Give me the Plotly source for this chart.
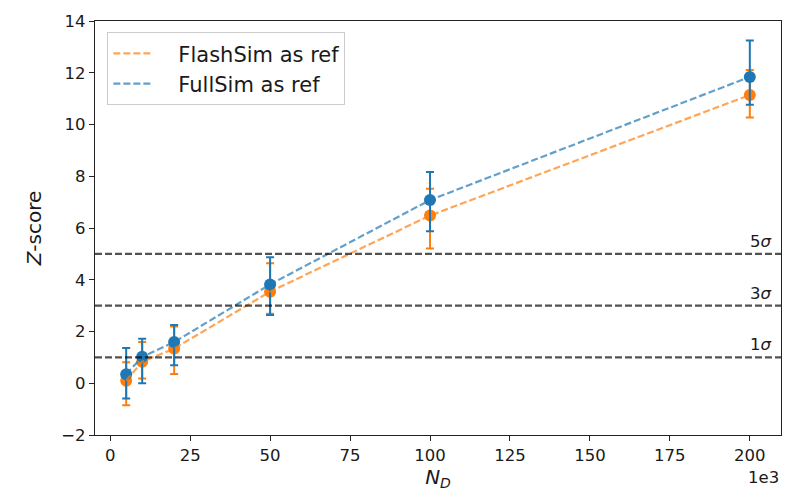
import plotly.graph_objects as go

# Data (x in units of 1e3)
n_d = [5, 10, 20, 50, 100, 200]

flash_z = [0.10, 0.83, 1.34, 3.54, 6.48, 11.14]
flash_err_plus = [0.71, 0.76, 0.85, 1.10, 1.04, 0.97]
flash_err_minus = [0.95, 0.65, 0.98, 0.85, 1.27, 0.87]

full_z = [0.35, 1.02, 1.59, 3.82, 7.08, 11.84]
full_err_plus = [1.01, 0.70, 0.66, 1.05, 1.08, 1.41]
full_err_minus = [0.94, 1.02, 0.89, 1.18, 1.21, 1.08]

sigma_levels = [1, 3, 5]
sigma_labels = ["1<i>σ</i>", "3<i>σ</i>", "5<i>σ</i>"]

x_ticks = [0, 25, 50, 75, 100, 125, 150, 175, 200]
y_ticks = [-2, 0, 2, 4, 6, 8, 10, 12, 14]
y_ticktext = ["−2", "0", "2", "4", "6", "8", "10", "12", "14"]

series_names = ["FlashSim as ref", "FullSim as ref"]

BLUE = "#1f77b4"
ORANGE = "#ff7f0e"
FONT = "DejaVu Sans, Arial, sans-serif"
TXT = "#1a1a1a"

fig = go.Figure()

# error bar markers
for z, ep, em, col in [(flash_z, flash_err_plus, flash_err_minus, ORANGE),
                       (full_z, full_err_plus, full_err_minus, BLUE)]:
    fig.add_trace(go.Scatter(
        x=n_d, y=z, mode="markers", showlegend=False,
        marker=dict(color=col, size=12),
        error_y=dict(type="data", symmetric=False, array=ep, arrayminus=em,
                     color=col, thickness=2, width=4),
    ))

# dashed lines with legend
for z, col, name in [(flash_z, "rgba(255,127,14,0.7)", series_names[0]),
                     (full_z, "rgba(31,119,180,0.7)", series_names[1])]:
    fig.add_trace(go.Scatter(
        x=n_d, y=z, mode="lines", name="\u00a0\u00a0\u00a0" + name,
        line=dict(color=col, width=2.2, dash="7px,3px"),
    ))

# horizontal sigma lines
for lvl, lab in zip(sigma_levels, sigma_labels):
    fig.add_shape(type="line", xref="paper", x0=0, x1=1, yref="y", y0=lvl, y1=lvl,
                  line=dict(color="rgba(0,0,0,0.68)", width=2.2, dash="7px,3px"))
    fig.add_annotation(x=207.5, y=lvl, xref="x", yref="y", text=lab,
                       showarrow=False, xanchor="right", yanchor="bottom", yshift=1,
                       font=dict(family=FONT, size=16.5, color=TXT))

fig.add_annotation(x=1, y=0, xref="paper", yref="paper", text="1e3",
                   showarrow=False, xanchor="right", yanchor="top", yshift=-31,
                   font=dict(family=FONT, size=16.5, color=TXT))

axis_common = dict(showline=True, linecolor="#222", linewidth=1.3, mirror=True,
                   ticks="outside", ticklen=5, tickwidth=1.2, tickcolor="#222",
                   showgrid=False, zeroline=False,
                   tickfont=dict(family=FONT, size=16.5, color=TXT))

fig.update_xaxes(range=[-4.75, 209.75], tickvals=x_ticks,
                 title=dict(text="<i>N</i><sub><i>D</i></sub>", standoff=2,
                            font=dict(family=FONT, size=20, color=TXT)),
                 **axis_common)
fig.update_yaxes(range=[-2, 14], tickvals=y_ticks, ticktext=y_ticktext,
                 title=dict(text="<i>Z</i>-score", standoff=14,
                            font=dict(family=FONT, size=20, color=TXT)),
                 **axis_common)

fig.update_layout(
    width=803, height=493,
    margin=dict(l=95, r=22, t=16, b=57),
    paper_bgcolor="white", plot_bgcolor="white",
    font=dict(family=FONT, color=TXT),
    legend=dict(x=0.018, y=0.973, xanchor="left", yanchor="top",
                bgcolor="rgba(255,255,255,0.8)", bordercolor="#cccccc", borderwidth=1,
                font=dict(family=FONT, size=21, color=TXT),
                itemwidth=40, tracegroupgap=2),
)

fig.write_html("out.html")
